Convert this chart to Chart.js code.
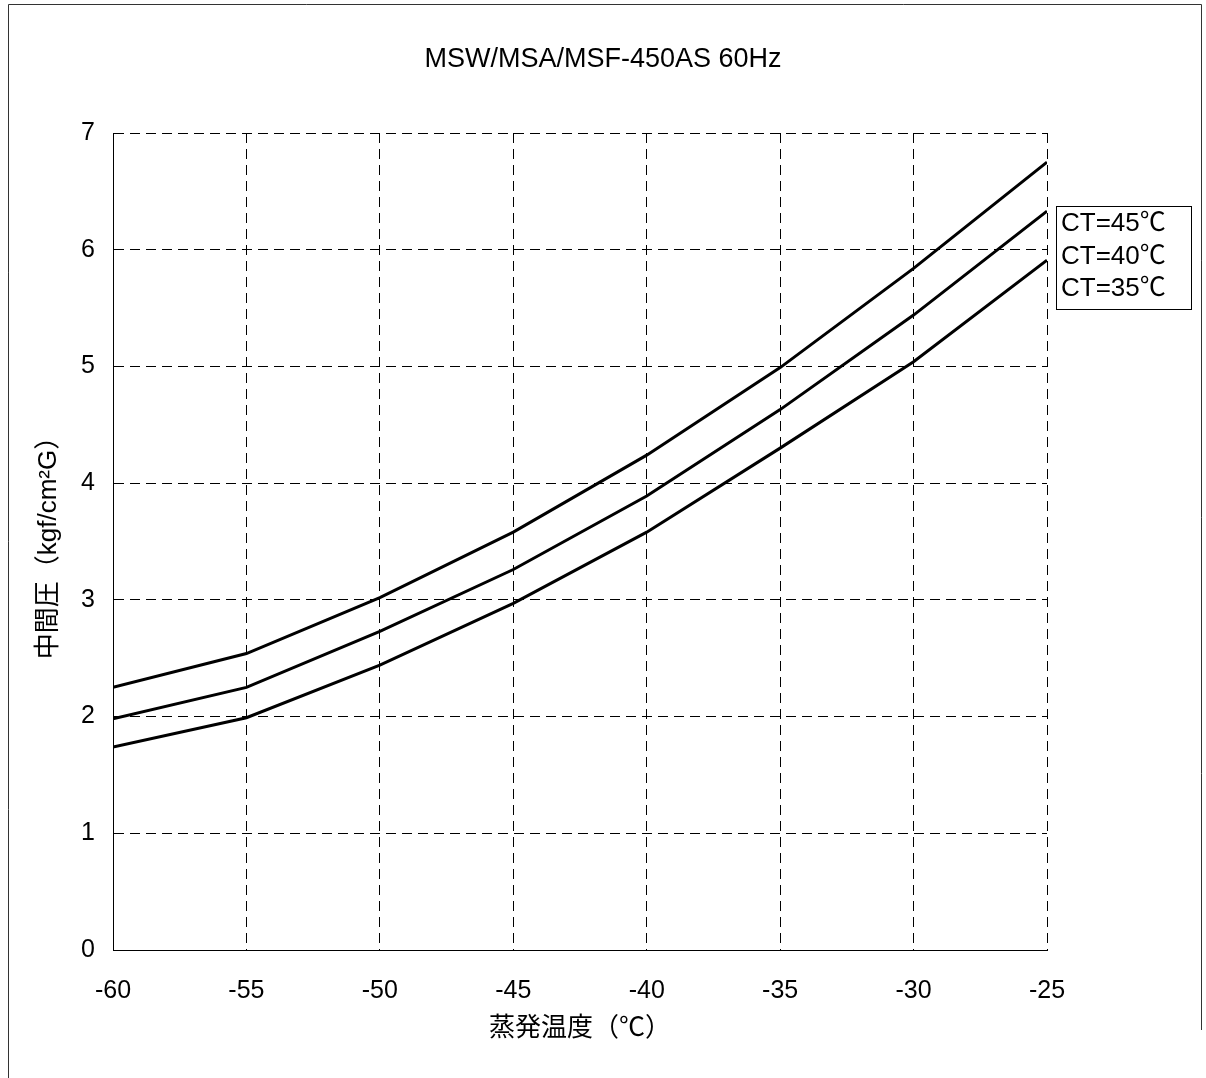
<!DOCTYPE html>
<html>
<head>
<meta charset="utf-8">
<script src="https://cdn.jsdelivr.net/npm/chart.js@4/dist/chart.umd.min.js"></script>
<style>
  body { margin: 0; background: #fff; }
</style>
</head>
<body>
<canvas id="chart" width="1206" height="1078"></canvas>
<script>
/************ DATA ************/
const temps = [-60, -55, -50, -45, -40, -35, -30, -25];
const ct45 = [2.25, 2.54, 3.02, 3.58, 4.24, 4.99, 5.84, 6.75];
const ct40 = [1.98, 2.25, 2.73, 3.26, 3.89, 4.63, 5.44, 6.33];
const ct35 = [1.74, 1.99, 2.44, 2.97, 3.58, 4.3, 5.04, 5.91];
const seriesLabels = ["CT=45℃", "CT=40℃", "CT=35℃"];

const FONT = "'Liberation Sans', Arial, 'Noto Sans CJK JP', sans-serif";

function toPoints(values) {
  return temps.map((t, i) => ({ x: t, y: values[i] }));
}

function lineSet(label, values) {
  return {
    label: label,
    data: toPoints(values),
    borderColor: "#000",
    borderWidth: 3,
    pointRadius: 0,
    tension: 0,
    fill: false,
  };
}

/************ FRAME, TITLE, LEGEND ************/
const decorations = {
  id: "decorations",
  beforeDraw(chart) {
    const ctx = chart.ctx;
    ctx.save();
    ctx.strokeStyle = "#333";
    ctx.lineWidth = 1;
    ctx.beginPath();
    ctx.moveTo(8.5, 1078);
    ctx.lineTo(8.5, 4.5);
    ctx.lineTo(1201.5, 4.5);
    ctx.lineTo(1201.5, 1030);
    ctx.stroke();
    ctx.restore();
  },
  afterDraw(chart) {
    const ctx = chart.ctx;
    const area = chart.chartArea;
    ctx.save();
    ctx.fillStyle = "#000";
    ctx.font = "27px " + FONT;
    ctx.textAlign = "center";
    ctx.textBaseline = "middle";
    ctx.fillText("MSW/MSA/MSF-450AS 60Hz", chart.width / 2, 60);

    // legend box
    const lx = area.right + 9;
    const ly = 206;
    ctx.strokeStyle = "#000";
    ctx.lineWidth = 1;
    ctx.strokeRect(lx + 0.5, ly + 0.5, 135, 103);
    ctx.font = "26px " + FONT;
    ctx.textAlign = "left";
    chart.data.datasets.forEach((ds, i) => {
      ctx.fillText(ds.label, lx + 5, ly + 18 + i * 32.5);
    });
    ctx.restore();
  },
};

/************ CHART ************/
const ctx = document.getElementById("chart").getContext("2d");
const chart = new Chart(ctx, {
  type: "line",
  data: {
    datasets: [
      lineSet(seriesLabels[0], ct45),
      lineSet(seriesLabels[1], ct40),
      lineSet(seriesLabels[2], ct35),
    ],
  },
  options: {
    responsive: false,
    animation: false,
    layout: {
      padding: { top: 133, right: 159, left: 0, bottom: 0 },
    },
    plugins: {
      legend: { display: false },
      title: { display: false },
      tooltip: { enabled: false },
    },
    scales: {
      x: {
        type: "linear",
        min: -60,
        max: -25,
        afterFit(scale) {
          scale.height = 128;
        },
        ticks: {
          stepSize: 5,
          color: "#000",
          padding: 26,
          font: { family: FONT, size: 25 },
        },
        grid: { color: "#000", lineWidth: 1, drawTicks: false },
        border: { display: true, color: "#000", width: 1, dash: [10, 6] },
        title: {
          display: true,
          text: "蒸発温度（℃）",
          color: "#000",
          font: { family: FONT, size: 26 },
          padding: { top: 0, bottom: 34 },
        },
      },
      y: {
        min: 0,
        max: 7,
        afterFit(scale) {
          scale.width = 113;
        },
        ticks: {
          stepSize: 1,
          color: "#000",
          padding: 18,
          font: { family: FONT, size: 25 },
        },
        grid: { color: "#000", lineWidth: 1, drawTicks: false },
        border: { display: true, color: "#000", width: 1, dash: [10, 6] },
        title: {
          display: true,
          text: "中間圧（kgf/cm²G）",
          color: "#000",
          font: { family: FONT, size: 26 },
          padding: { top: 33, bottom: 0 },
        },
      },
    },
  },
  plugins: [decorations],
});
</script>
</body>
</html>
